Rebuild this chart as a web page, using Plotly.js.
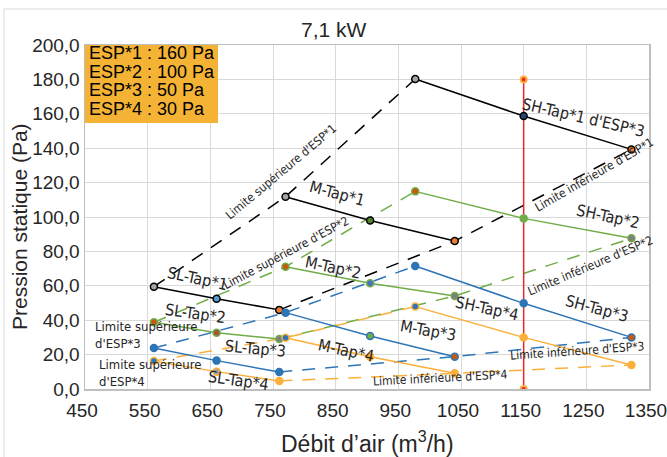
<!DOCTYPE html>
<html>
<head>
<meta charset="utf-8">
<script src="https://cdn.plot.ly/plotly-3.0.1.min.js"></script>
<style>html,body{margin:0;padding:0;background:#fff;}#chart{width:667px;height:457px;}</style>
</head>
<body>
<div id="chart"></div>
<script>
// ---- data ----
const slFlow = [560, 660, 760];
const mFlow  = [770, 905, 1040];
const shFlow = [977, 1150, 1322];

const esp1SL = [59.5, 52.5, 46.0];
const esp1M  = [111.8, 98.0, 86.0];
const esp1SH = [180.2, 158.7, 139.3];

const esp2SL = [38.8, 32.7, 29.1];
const esp2M  = [71.1, 61.5, 54.1];
const esp2SH = [114.9, 99.2, 87.6];

const esp3SL = [23.8, 16.5, 9.9];
const esp3M  = [44.4, 30.8, 18.8];
const esp3SH = [71.5, 49.8, 30.0];

const esp4SL = [16.3, 10.1, 4.7];
const esp4M  = [29.8, 18.8, 9.1];
const esp4SH = [47.9, 30.0, 14.0];

const refFlow = [1150, 1150];
const refPressure = [0, 180];

const espLabels = ['ESP*1 : 160 Pa', 'ESP*2 : 100 Pa', 'ESP*3 : 50 Pa', 'ESP*4 : 30 Pa'];
const xTicks = [450, 550, 650, 750, 850, 950, 1050, 1150, 1250, 1350];
const yTicks = [0, 20, 40, 60, 80, 100, 120, 140, 160, 180, 200];

// ---- styles ----
const esps = [
  {SL: esp1SL, M: esp1M, SH: esp1SH, color: '#000000',
   fills: {SL: ['#a5a5a5', '#5b9bd5', '#ed7d31'], M: ['#a5a5a5', '#548235', '#ed7d31'], SH: ['#a5a5a5', '#264478', '#ed7d31']}, outline: '#000000'},
  {SL: esp2SL, M: esp2M, SH: esp2SH, color: '#70ad47',
   fills: {SL: ['#c55a11', '#a5543a', '#7f7f7f'], M: ['#c55a11', '#4472c4', '#7f7f7f'], SH: ['#c55a11', '#70ad47', '#7f7f7f']}, outline: '#70ad47'},
  {SL: esp3SL, M: esp3M, SH: esp3SH, color: '#2e75b6',
   fills: {SL: ['#2e75b6', '#2e75b6', '#2e75b6'], M: ['#2e75b6', '#70ad47', '#c55a11'], SH: ['#2e75b6', '#2e75b6', '#c55a11']}, outline: '#2e75b6'},
  {SL: esp4SL, M: esp4M, SH: esp4SH, color: '#fbb03b',
   fills: {SL: ['#2e75b6', '#a5a5a5', '#fbb03b'], M: ['#2e75b6', '#fbb03b', '#fbb03b'], SH: ['#2e75b6', '#fbb03b', '#fbb03b']}, outline: '#fbb03b'}
];
const taps = [['SL', slFlow], ['M', mFlow], ['SH', shFlow]];

const traces = [];
// dashed limit lines
esps.forEach(e => {
  const upX = taps.map(t => t[1][0]);
  const upY = taps.map(t => e[t[0]][0]);
  const loX = taps.map(t => t[1][2]);
  const loY = taps.map(t => e[t[0]][2]);
  [[upX, upY], [loX, loY]].forEach(p => traces.push({
    x: p[0], y: p[1], type: 'scatter', mode: 'lines', hoverinfo: 'skip',
    line: {color: e.color, width: 1.5, dash: '13px,10px'}
  }));
});
// reference line
traces.push({x: refFlow, y: refPressure, type: 'scatter', mode: 'lines+markers',
  line: {color: '#e8282d', width: 1.5},
  marker: {size: 6, color: '#e8282d', line: {color: '#fbb03b', width: 2}}});
// tap curves
esps.forEach(e => {
  taps.forEach(t => traces.push({
    x: t[1], y: e[t[0]], type: 'scatter', mode: 'lines+markers',
    line: {color: e.color, width: 1.5},
    marker: {size: 7, color: e.fills[t[0]], line: {color: e.outline, width: 1.5}}
  }));
});

// ---- layout helpers (pixel -> data / paper) ----
const L = 85, T = 45, W = 564, H = 344;
const dx = px => 450 + (px - L) / W * 900;
const dy = py => (T + H - py) / H * 200;
const ppx = px => (px - L) / W;
const ppy = py => (T + H - py) / H;

const sans = 'Liberation Sans, Arial, sans-serif';
const narrow = 'Liberation Sans Narrow, Arial Narrow, DejaVu Sans Condensed, sans-serif';
const tc = '#262626';
const labels = [
  ['SL-Tap*1', 197, 278, 12, 16],
  ['M-Tap*1', 337, 193, 15, 16],
  ['SH-Tap*1 d\'ESP*3', 583, 117, 13, 16],
  ['Limite supérieure d\'ESP*1', 281, 172, -40, 12],
  ['Limite inférieure d\'ESP*1', 594, 175, -30, 12],
  ['SH-Tap*2', 608, 216, 12, 16],
  ['Limite supérieure d\'ESP*2', 286, 253, -28, 12],
  ['M-Tap*2', 333, 267, 12, 16],
  ['Limite inférieure d\'ESP*2', 590, 266, -23, 12],
  ['SL-Tap*2', 195, 313, 8, 16],
  ['SH-Tap*4', 487, 308, 12, 16],
  ['SH-Tap*3', 597, 308, 15, 16],
  ['M-Tap*3', 428, 330, 10, 16],
  ['SL-Tap*3', 255, 348, 5, 16],
  ['M-Tap*4', 346, 350, 12, 16],
  ['Limite inférieure d\'ESP*3', 577, 351, -4, 12],
  ['SL-Tap*4', 238, 380, 8, 16],
  ['Limite inférieure d\'ESP*4', 440, 378, -3, 12]
];
const annotations = labels.map(a => ({
  text: a[0], x: dx(a[1]), y: dy(a[2]), xref: 'x', yref: 'y', showarrow: false,
  xanchor: 'center', yanchor: 'middle',
  textangle: a[3], font: {family: narrow, size: a[4], color: tc}
}));
annotations.push(
  {text: 'Limite supérieure<br>d\'ESP*3', x: ppx(93), y: ppy(335), xref: 'paper', yref: 'paper',
   xanchor: 'left', yanchor: 'middle', align: 'left', showarrow: false, font: {family: narrow, size: 13, color: tc}},
  {text: 'Limite supérieure<br>d\'ESP*4', x: ppx(97), y: ppy(373), xref: 'paper', yref: 'paper',
   xanchor: 'left', yanchor: 'middle', align: 'left', showarrow: false, font: {family: narrow, size: 13, color: tc}}
);
espLabels.forEach((s, i) => annotations.push({
  text: s, x: ppx(87), y: ppy(53 + i * 18.7), xref: 'paper', yref: 'paper',
  xanchor: 'left', yanchor: 'middle', showarrow: false,
  font: {family: sans, size: 18, color: '#000'}
}));
annotations.push({text: '7,1 kW', x: ppx(334), y: ppy(30), xref: 'paper', yref: 'paper',
  xanchor: 'center', yanchor: 'middle',
  showarrow: false, font: {family: sans, size: 21, color: tc}});
// axis titles
annotations.push({text: 'Débit d’air (m<sup>3</sup>/h)', x: ppx(367), y: ppy(442), xref: 'paper', yref: 'paper',
  xanchor: 'center', yanchor: 'middle',
  showarrow: false, font: {family: sans, size: 23, color: tc}});
annotations.push({text: 'Pression statique (Pa)', x: ppx(19), y: ppy(227), xref: 'paper', yref: 'paper',
  xanchor: 'center', yanchor: 'middle',
  textangle: -90, showarrow: false, font: {family: sans, size: 21, color: tc}});

const shapes = [
  {type: 'rect', xref: 'paper', yref: 'paper', x0: ppx(4), x1: ppx(700), y0: ppy(9), y1: ppy(520),
   line: {color: '#d9d9d9', width: 1}, fillcolor: 'rgba(0,0,0,0)', layer: 'below'},
  {type: 'rect', xref: 'paper', yref: 'paper', x0: 0, x1: ppx(218), y0: ppy(123), y1: 1,
   line: {width: 0}, fillcolor: '#f5b335', layer: 'above'}
];

const layout = {
  width: 667, height: 457,
  margin: {l: L, r: 667 - L - W, t: T, b: 457 - T - H, pad: 0},
  paper_bgcolor: '#ffffff', plot_bgcolor: '#ffffff',
  showlegend: false,
  separators: ', ',
  font: {family: sans, color: tc},
  xaxis: {
    range: [450, 1350], tickvals: xTicks, ticktext: xTicks.map(String),
    showgrid: true, gridcolor: '#d9d9d9', gridwidth: 1,
    showline: true, linecolor: '#bfbfbf', linewidth: 1.5, mirror: true,
    zeroline: false, ticks: '', tickfont: {size: 19, color: tc},
    ticklabeloverflow: 'allow', ticklabelshift: -3, ticklabelstandoff: 4
  },
  yaxis: {
    range: [0, 200], tickvals: yTicks, tickformat: '.1f',
    showgrid: true, gridcolor: '#d9d9d9', gridwidth: 1,
    showline: true, linecolor: '#bfbfbf', linewidth: 1.5, mirror: true,
    zeroline: false, ticks: '', tickfont: {size: 19, color: tc},
    ticklabeloverflow: 'allow'
  },
  annotations: annotations,
  shapes: shapes
};

Plotly.newPlot('chart', traces, layout, {displayModeBar: false, staticPlot: true});
</script>
</body>
</html>
